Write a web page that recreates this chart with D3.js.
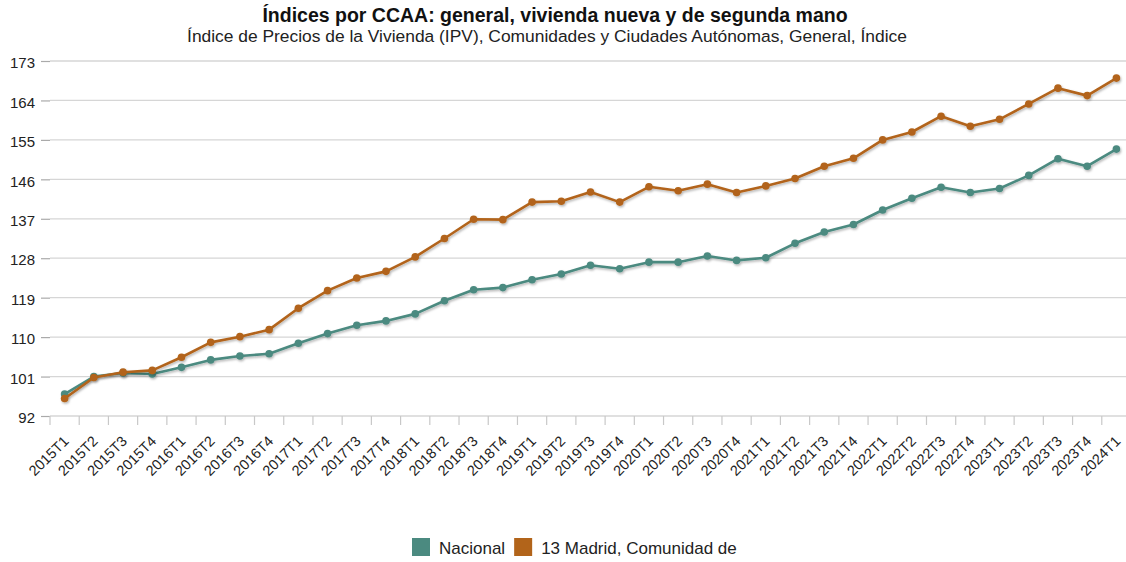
<!DOCTYPE html>
<html>
<head>
<meta charset="utf-8">
<script src="https://cdn.jsdelivr.net/npm/d3@7"></script>
<style>
  body { margin: 0; background: #fff; font-family: "Liberation Sans", Arial, Helvetica, sans-serif; }
  svg { display: block; }
  .title { font-size: 19.5px; font-weight: bold; fill: #111; }
  .subtitle { font-size: 17.4px; fill: #222; }
  .tickText { font-size: 15px; fill: #222; }
  .xText { font-size: 14.5px; fill: #222; }
  .legendText { font-size: 17px; fill: #222; }
</style>
</head>
<body>
<div id="chart"></div>
<script>
const periods = ["2015T1","2015T2","2015T3","2015T4","2016T1","2016T2","2016T3","2016T4",
  "2017T1","2017T2","2017T3","2017T4","2018T1","2018T2","2018T3","2018T4",
  "2019T1","2019T2","2019T3","2019T4","2020T1","2020T2","2020T3","2020T4",
  "2021T1","2021T2","2021T3","2021T4","2022T1","2022T2","2022T3","2022T4",
  "2023T1","2023T2","2023T3","2023T4","2024T1"];

const nacional = [97.0, 101.0, 101.8, 101.6, 103.1, 104.8, 105.7, 106.2,
  108.6, 110.8, 112.7, 113.7, 115.3, 118.3, 120.8, 121.3,
  123.1, 124.4, 126.4, 125.6, 127.1, 127.1, 128.5, 127.5,
  128.1, 131.4, 134.0, 135.7, 139.0, 141.7, 144.2, 143.0,
  143.9, 146.9, 150.7, 149.0, 152.9];

const madrid = [96.0, 100.8, 102.0, 102.4, 105.4, 108.8, 110.1, 111.7,
  116.6, 120.6, 123.5, 125.0, 128.3, 132.5, 136.9, 136.8,
  140.8, 141.0, 143.1, 140.8, 144.3, 143.4, 144.9, 143.0,
  144.5, 146.2, 149.0, 150.8, 155.0, 156.8, 160.4, 158.1,
  159.7, 163.2, 166.8, 165.1, 169.1];

const yTicks = [92, 101, 110, 119, 128, 137, 146, 155, 164, 173];

const seriesNames = ["Nacional", "13 Madrid, Comunidad de"];
const seriesColors = ["#4b8a80", "#b2641a"];

const svgWidth = 1126;
const svgHeight = 562;

const margin = { top: 61, right: -5, bottom: 146, left: 50 };
const width = svgWidth - margin.left - margin.right;
const height = svgHeight - margin.top - margin.bottom;

const svg = d3.select("#chart")
  .append("svg")
  .attr("width", svgWidth)
  .attr("height", svgHeight);

// soft shadow under lines and points
const shadow = svg.append("defs").append("filter")
  .attr("id", "shadow")
  .attr("x", "-10%").attr("y", "-10%")
  .attr("width", "120%").attr("height", "130%");
shadow.append("feDropShadow")
  .attr("dx", 1).attr("dy", 1.5)
  .attr("stdDeviation", 1.2)
  .attr("flood-color", "#000")
  .attr("flood-opacity", 0.3);

svg.append("text")
  .attr("class", "title")
  .attr("x", 555)
  .attr("y", 22)
  .attr("text-anchor", "middle")
  .text("Índices por CCAA: general, vivienda nueva y de segunda mano");

svg.append("text")
  .attr("class", "subtitle")
  .attr("x", 547)
  .attr("y", 42)
  .attr("text-anchor", "middle")
  .text("Índice de Precios de la Vivienda (IPV), Comunidades y Ciudades Autónomas, General, Índice");

const chartGroup = svg.append("g")
  .attr("transform", `translate(${margin.left}, ${margin.top})`);

const xScale = d3.scaleBand()
  .domain(periods)
  .range([0, width]);

const yScale = d3.scaleLinear()
  .domain([92, 173])
  .range([height, 0]);

// gridlines
chartGroup.append("g")
  .selectAll("line")
  .data(yTicks)
  .enter()
  .append("line")
  .attr("x1", 0)
  .attr("x2", width)
  .attr("y1", d => yScale(d))
  .attr("y2", d => yScale(d))
  .attr("stroke", "#d6d6d6")
  .attr("stroke-width", 1.3);

// y axis
const leftAxis = d3.axisLeft(yScale).tickValues(yTicks).tickSize(9).tickPadding(6);
const yAxis = chartGroup.append("g").call(leftAxis);
yAxis.select(".domain").remove();
yAxis.selectAll(".tick line").attr("stroke", "#aaa").attr("stroke-width", 1.2);
yAxis.selectAll(".tick text")
  .attr("class", "tickText")
  .attr("dy", "0.45em")
  .style("font-family", "'Liberation Sans', Arial, sans-serif");

// x axis ticks at band edges
const xTickGroup = chartGroup.append("g")
  .attr("transform", `translate(0, ${height})`);
xTickGroup.selectAll("line")
  .data(periods)
  .enter()
  .append("line")
  .attr("x1", d => xScale(d))
  .attr("x2", d => xScale(d))
  .attr("y1", 0)
  .attr("y2", 9)
  .attr("stroke", "#c8c8c8")
  .attr("stroke-width", 1.2);

xTickGroup.selectAll("text")
  .data(periods)
  .enter()
  .append("text")
  .attr("class", "xText")
  .attr("text-anchor", "end")
  .attr("transform", d => `translate(${xScale(d) + xScale.bandwidth() / 2 + 5}, 26) rotate(-45)`)
  .text(d => d);

// frame: left, top and bottom lines
chartGroup.append("line")
  .attr("x1", 0).attr("x2", width)
  .attr("y1", 0).attr("y2", 0)
  .attr("stroke", "#999").attr("stroke-width", 2)
  .attr("filter", "url(#shadow)");
chartGroup.append("line")
  .attr("x1", 0).attr("x2", width)
  .attr("y1", height).attr("y2", height)
  .attr("stroke", "#999").attr("stroke-width", 2)
  .attr("filter", "url(#shadow)");
chartGroup.append("line")
  .attr("x1", 0).attr("x2", 0)
  .attr("y1", 0).attr("y2", height)
  .attr("stroke", "#999").attr("stroke-width", 2)
  .attr("filter", "url(#shadow)");

// series
const allSeries = [nacional, madrid];
const line = d3.line()
  .x((d, i) => xScale(periods[i]) + xScale.bandwidth() / 2)
  .y(d => yScale(d));

allSeries.forEach(function(values, s) {
  const g = chartGroup.append("g").attr("filter", "url(#shadow)");
  g.append("path")
    .datum(values)
    .attr("d", line)
    .attr("fill", "none")
    .attr("stroke", seriesColors[s])
    .attr("stroke-width", 2.6)
    .attr("stroke-linejoin", "round");
  g.selectAll("circle")
    .data(values)
    .enter()
    .append("circle")
    .attr("cx", (d, i) => xScale(periods[i]) + xScale.bandwidth() / 2)
    .attr("cy", d => yScale(d))
    .attr("r", 3.8)
    .attr("fill", seriesColors[s]);
});

// legend
const legend = svg.append("g").attr("transform", "translate(412, 538)");
let lx = 0;
seriesNames.forEach(function(name, s) {
  legend.append("rect")
    .attr("x", lx).attr("y", 0)
    .attr("width", 18).attr("height", 18)
    .attr("fill", seriesColors[s]);
  const t = legend.append("text")
    .attr("class", "legendText")
    .attr("x", lx + 27)
    .attr("y", 15.5)
    .text(name);
  lx += 27 + t.node().getComputedTextLength() + 9;
});
</script>
</body>
</html>
